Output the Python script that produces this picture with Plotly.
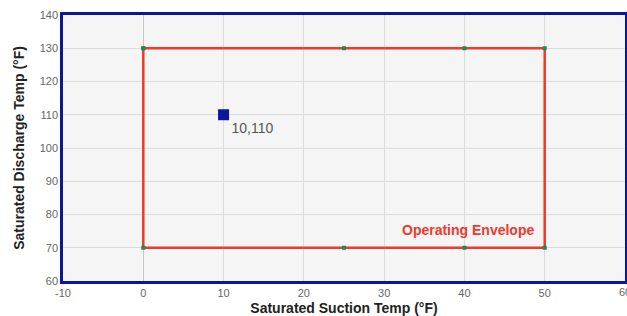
import plotly.graph_objects as go

env_x = [0, 25, 40, 50, 50, 40, 25, 0, 0]
env_y = [130, 130, 130, 130, 70, 70, 70, 70, 130]
pt_x = [10]
pt_y = [110]
pt_label = ["10,110"]
env_label = "Operating Envelope"
env_label_pos = (40.4, 75.2)
x_ticks = [-10, 0, 10, 20, 30, 40, 50]
x_tick_text = ["-10", "0", "10", "20", "30", "40", "50"]
x_last_tick = 60
y_ticks = [60, 70, 80, 90, 100, 110, 120, 130, 140]

FONT = "Liberation Sans, Arial, sans-serif"

fig = go.Figure()
fig.add_trace(go.Scatter(x=env_x, y=env_y, mode="lines+markers",
                         line=dict(color="#ee3a2c", width=2.5),
                         marker=dict(symbol="square", size=4, color="#1e8a4a"),
                         hoverinfo="skip", showlegend=False))
fig.add_trace(go.Scatter(x=pt_x, y=pt_y, mode="markers+text",
                         marker=dict(symbol="square", size=11, color="#0a16a0"),
                         text=pt_label, textposition="bottom right",
                         textfont=dict(size=14, color="#555555", family=FONT),
                         showlegend=False))
fig.add_annotation(x=env_label_pos[0], y=env_label_pos[1], text="<b>" + env_label + "</b>",
                   showarrow=False, font=dict(size=14, color="#ee3a2c", family=FONT))
fig.add_annotation(x=x_last_tick, xref="x", y=0, yref="paper", yanchor="top",
                   yshift=-3, text=str(x_last_tick), showarrow=False,
                   font=dict(size=11, color="#666666", family=FONT))

fig.update_layout(
    width=627, height=316,
    margin=dict(l=63, r=2, t=15, b=35, autoexpand=False),
    paper_bgcolor="white", plot_bgcolor="#f4f5f4",
    font=dict(family=FONT),
)
fig.update_xaxes(range=[-10, 60], tickvals=x_ticks, ticktext=x_tick_text,
                 showgrid=True, gridcolor="#dcdcdc",
                 zeroline=True, zerolinecolor="#c8c8c8", zerolinewidth=1,
                 showline=True, linecolor="#0a16a0", linewidth=2.5, mirror=True,
                 tickfont=dict(size=11, color="#666666"),
                 title=dict(text="<b>Saturated Suction Temp (°F)</b>",
                            font=dict(size=14, color="#222222"), standoff=6))
fig.update_yaxes(range=[60, 140], tickvals=y_ticks, showgrid=True, gridcolor="#dcdcdc",
                 zeroline=False,
                 showline=True, linecolor="#0a16a0", linewidth=2.5, mirror=True,
                 tickfont=dict(size=11, color="#666666"),
                 title=dict(text="<b>Saturated Discharge Temp (°F)</b>",
                            font=dict(size=14, color="#222222"), standoff=12))

fig.write_html("out.html", config={"displayModeBar": False},
               post_script="document.body.style.margin='0';document.body.style.overflow='hidden';")
